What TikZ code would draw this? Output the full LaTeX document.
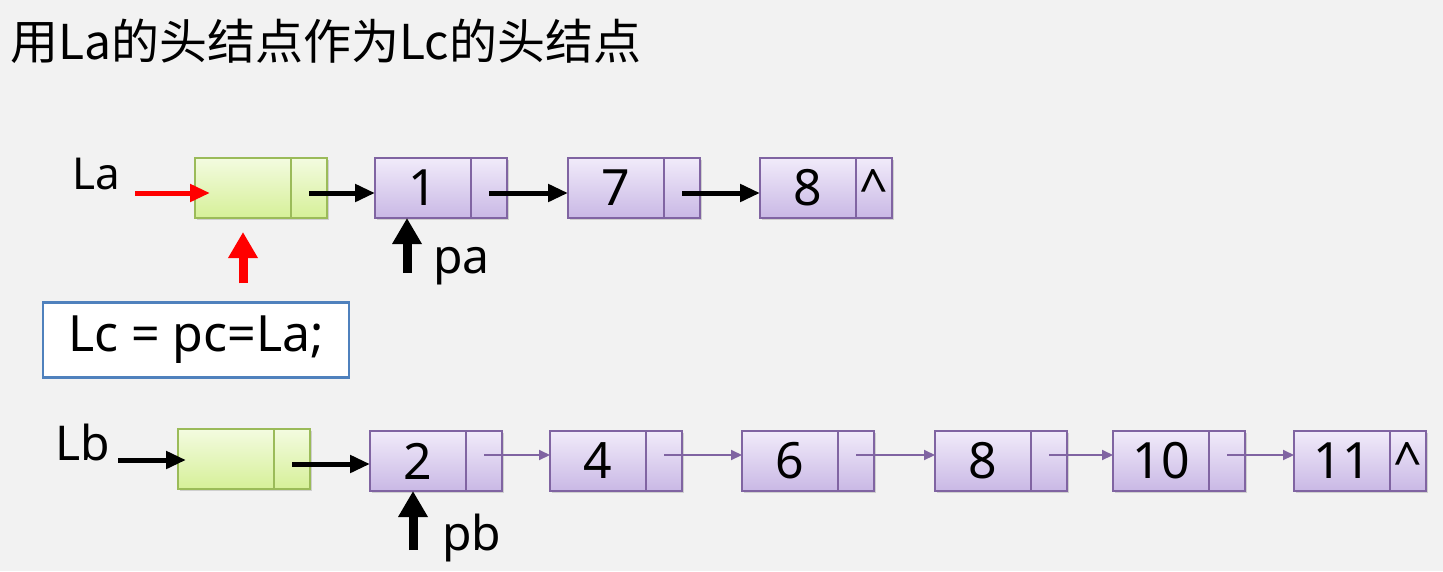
\documentclass[tikz,border=0pt]{standalone}
\usepackage{fontspec}
\setmainfont{Noto Sans}
\newfontfamily\cjk{Noto Sans CJK SC}
\usetikzlibrary{arrows.meta,shadows}
\definecolor{bg}{RGB}{242,242,242}
\definecolor{nodeline}{RGB}{128,100,162}
\definecolor{nodetop}{RGB}{241,235,250}
\definecolor{nodebot}{RGB}{201,184,229}
\definecolor{headline}{RGB}{155,187,89}
\definecolor{headtop}{RGB}{243,251,224}
\definecolor{headbot}{RGB}{214,240,152}
\definecolor{boxline}{RGB}{79,129,189}
\newcommand{\fsz}[1]{\fontsize{#1}{#1}\selectfont}
\tikzset{
  datacell/.style={draw=nodeline, line width=1.5pt, top color=nodetop, bottom color=nodebot,
    minimum width=96pt, minimum height=60pt, inner sep=0pt, outer sep=0pt, anchor=west,
    drop shadow={shadow xshift=2pt, shadow yshift=-2pt, opacity=0.3}, font=\fsz{50}},
  ptrcell/.style={datacell, minimum width=36pt},
  headcell/.style={datacell, draw=headline, top color=headtop, bottom color=headbot},
  headptr/.style={headcell, minimum width=36pt},
  caret/.style={font=\fsz{50}, inner sep=0pt},
  txt/.style={font=\fsz{#1}, anchor=base west, inner sep=0pt},
  blackarrow/.style={-{Triangle[length=20pt,width=17pt]}, line width=5pt},
  redarrow/.style={blackarrow, red},
  thinarrow/.style={-{Triangle[length=11pt,width=10pt]}, line width=2pt, draw=nodeline},
  uparrow/.style={-{Triangle[length=26pt,width=28pt]}, line width=9pt},
}
\begin{document}
\begin{tikzpicture}[x=1pt,y=-1pt]
\fill[bg] (0,0) rectangle (1443,571);
\node[txt=48, font=\cjk\fsz{48}] (title) at (10,59) {用La的头结点作为Lc的头结点};

% La
\node[headcell] (ha) at (195,188) {};
\node[headptr] (hap) at (ha.east) {};
\foreach \v/\x [count=\i] in {1/375,7/568,8/760} {
  \node[datacell] (a\i) at (\x,188) {\v};
  \node[ptrcell] (ap\i) at (a\i.east) {};
}
\node[caret] (anil) at (ap3.center) {\textasciicircum};
\node[txt=44] (la) at (72,189) {La};
\draw[redarrow] ([xshift=15pt,yshift=-4pt]la.base east) -- ([xshift=15pt,yshift=-4pt]la.base east -| ha.west);
\draw[blackarrow] ([yshift=-5pt]hap.center) -- ([yshift=-5pt]hap.center -| a1.west);
\foreach \i/\j in {1/2,2/3}
  \draw[blackarrow] ([yshift=-5pt]ap\i.center) -- ([yshift=-5pt]ap\i.center -| a\j.west);
\node[txt=48] (pa) at (433,273) {pa};
\draw[uparrow] ([xshift=-26pt]pa.base west) -- ([xshift=-26pt]pa.base west |- a1.south);

% Lc
\node[draw=boxline, line width=2.5pt, fill=white, minimum width=306pt, minimum height=75pt,
  font=\fsz{50}] (lc) at (196,340) {Lc = pc=La;};
\draw[uparrow, red] ([yshift=18pt]lc.north -| ha.center) -- ([yshift=-14pt]ha.south);

% Lb
\node[headcell] (hb) at (178,459) {};
\node[headptr] (hbp) at (hb.east) {};
\foreach \v/\x [count=\i] in {2/370,4/550,6/742,8/935,10/1113,11/1294} {
  \node[datacell] (b\i) at (\x,461) {\v};
  \node[ptrcell] (bp\i) at (b\i.east) {};
}
\node[caret] (bnil) at (bp6.center) {\textasciicircum};
\node[txt=48] (lb) at (55,460) {Lb};
\draw[blackarrow] ([xshift=8pt]lb.base east) -- ([xshift=8pt]lb.base east -| hb.west);
\draw[blackarrow] ([yshift=-5pt]hbp.center) -- ([yshift=-5pt]hbp.center -| b1.west);
\foreach \i/\j in {1/2,2/3,3/4,4/5,5/6}
  \draw[thinarrow] ([yshift=6pt]bp\i.center) -- ([yshift=6pt]bp\i.center -| b\j.west);
\node[txt=48] (pb) at (442,550) {pb};
\draw[uparrow] ([xshift=-29pt]pb.base west) -- ([xshift=-29pt]pb.base west |- b1.south);
\end{tikzpicture}
\end{document}
